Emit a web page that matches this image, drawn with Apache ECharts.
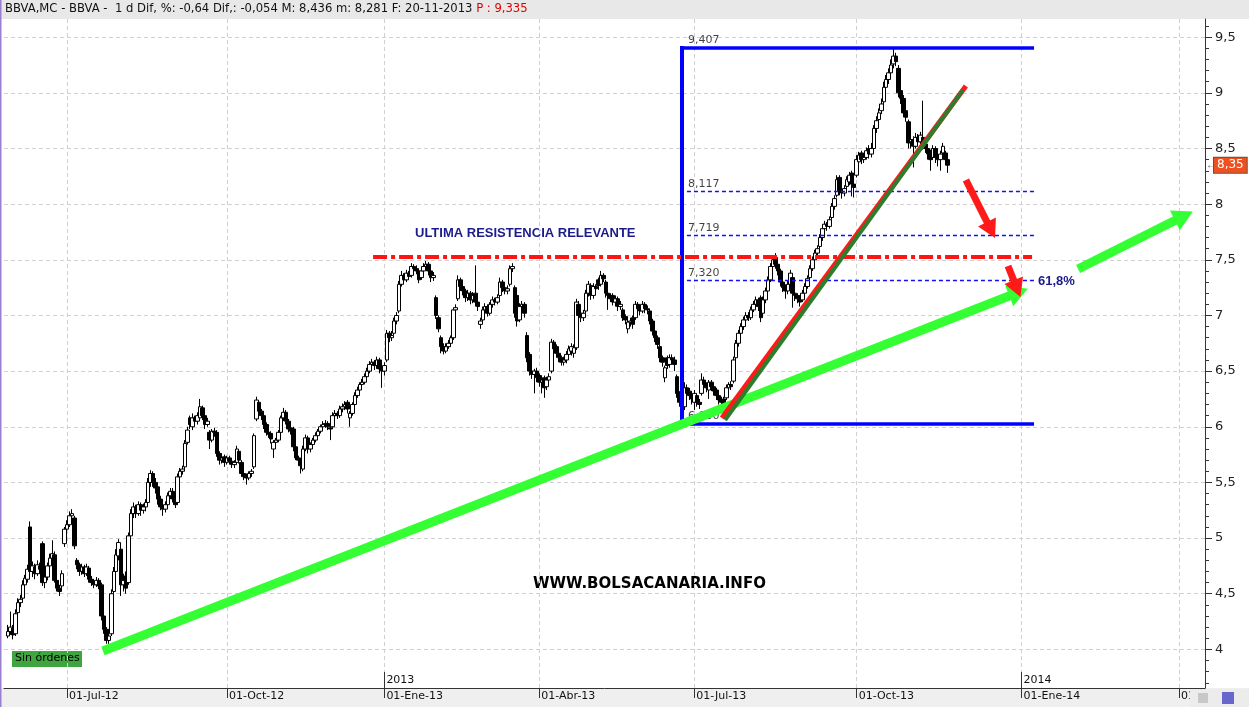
<!DOCTYPE html>
<html><head><meta charset="utf-8">
<script src="https://cdn.jsdelivr.net/npm/echarts@6/dist/echarts.min.js"></script>
<style>html,body{margin:0;padding:0;background:#fff}#c{width:1249px;height:707px}</style>
</head><body><div id="c"></div>
<script>
// ---- daily candles [open, close, low, high] ----
const p_jun12 = [
[4.12,4.16,4.10,4.22],[4.16,4.20,4.13,4.34],[4.19,4.13,4.09,4.22],[4.14,4.32,4.12,4.36],[4.33,4.42,4.30,4.46],[4.42,4.45,4.38,4.49],[4.46,4.58,4.44,4.62],[4.58,4.64,4.55,4.67],[4.63,4.72,4.60,4.76],[5.10,4.70,4.66,5.15],
[4.70,4.75,4.65,4.79],[4.74,4.68,4.63,4.77],[4.68,4.76,4.66,4.80],[4.75,4.72,4.68,4.78],[4.95,4.60,4.57,4.97],[4.60,4.65,4.55,4.70],[4.65,4.75,4.62,4.78],[4.75,4.82,4.72,4.86],[4.82,4.86,4.79,4.98],[4.85,4.62,4.60,4.88],
[4.62,4.55,4.52,4.64],[4.55,4.52,4.48,4.58],[4.57,4.68,4.55,4.71],[4.95,5.08,4.92,5.10]];
const p_q3_12 = [
[5.08,5.12,5.04,5.16],[5.12,5.20,5.10,5.24],[5.20,5.22,5.16,5.26],[5.18,4.93,4.90,5.20],[4.80,4.76,4.72,4.82],[4.76,4.70,4.66,4.78],[4.70,4.74,4.67,4.77],[4.74,4.68,4.65,4.76],[4.68,4.74,4.66,4.77],[4.73,4.63,4.60,4.75],
[4.63,4.60,4.57,4.66],[4.60,4.58,4.55,4.63],[4.58,4.62,4.56,4.65],[4.62,4.57,4.54,4.64],[4.58,4.30,4.26,4.60],[4.30,4.18,4.14,4.32],[4.18,4.08,4.05,4.20],[4.08,4.12,4.05,4.16],[4.14,4.50,4.12,4.54],[4.52,4.70,4.50,4.74],
[4.70,4.85,4.68,4.90],[4.84,4.96,4.80,4.99],[4.90,4.58,4.48,4.93],[4.58,4.62,4.52,4.68],[4.66,4.55,4.50,4.70],[4.60,5.02,4.58,5.05],[5.02,5.22,5.00,5.26],[5.22,5.28,5.18,5.32],[5.28,5.22,5.18,5.30],[5.22,5.30,5.20,5.33],
[5.30,5.25,5.20,5.32],[5.25,5.28,5.22,5.31],[5.28,5.32,5.24,5.35],[5.32,5.50,5.30,5.54],[5.50,5.58,5.46,5.61],[5.58,5.50,5.46,5.60],[5.50,5.45,5.40,5.54],[5.46,5.35,5.30,5.48],[5.35,5.28,5.25,5.38],[5.28,5.26,5.20,5.31],
[5.26,5.30,5.23,5.33],[5.30,5.38,5.28,5.41],[5.38,5.42,5.35,5.45],[5.42,5.35,5.32,5.45],[5.36,5.30,5.27,5.38],[5.32,5.55,5.30,5.58],[5.55,5.60,5.52,5.63],[5.60,5.62,5.57,5.65],[5.64,5.85,5.62,5.88],[5.86,5.97,5.84,6.00],
[6.08,6.02,5.98,6.10],[6.00,6.08,5.97,6.12],[6.08,6.05,6.01,6.10],[6.05,6.10,6.02,6.13],[6.08,6.18,6.06,6.25],[6.17,6.10,6.06,6.19],[6.10,6.02,5.98,6.12],[6.02,6.05,6.00,6.08],[5.95,5.88,5.80,5.97],[5.88,5.96,5.86,5.98],
[5.96,5.95,5.91,5.99],[5.95,5.76,5.73,5.97],[5.76,5.70,5.66,5.78],[5.70,5.72,5.67,5.75],[5.73,5.68,5.64,5.75]];
const p_q4_12 = [
[5.68,5.72,5.66,5.74],[5.72,5.69,5.66,5.74],[5.69,5.66,5.63,5.71],[5.66,5.68,5.63,5.70],[5.68,5.80,5.66,5.83],[5.78,5.70,5.67,5.80],[5.68,5.58,5.55,5.70],[5.58,5.55,5.52,5.60],[5.56,5.54,5.48,5.58],[5.54,5.58,5.52,5.60],
[5.58,5.60,5.55,5.62],[5.64,5.92,5.62,5.94],[6.07,6.24,6.05,6.27],[6.22,6.14,6.10,6.24],[6.14,6.10,6.06,6.16],[6.10,6.02,5.98,6.12],[6.02,5.95,5.92,6.04],[5.95,5.93,5.90,5.97],[5.94,5.89,5.85,5.96],[5.80,5.86,5.72,5.88],
[5.86,5.88,5.83,5.90],[5.88,5.95,5.86,5.97],[5.95,6.08,5.93,6.10],[6.08,6.13,6.05,6.17],[6.13,6.05,6.02,6.15],[6.05,5.98,5.95,6.07],[5.99,5.96,5.93,6.01],[5.98,5.82,5.78,6.00],[5.82,5.72,5.70,5.85],[5.72,5.70,5.66,5.74],
[5.70,5.65,5.58,5.72],[5.62,5.80,5.60,5.83],[5.80,5.90,5.78,5.93],[5.90,5.80,5.76,5.92],[5.80,5.84,5.77,5.86],[5.84,5.88,5.81,5.90],[5.88,5.92,5.86,5.95],[5.92,5.96,5.90,5.98],[5.96,6.00,5.94,6.02],[6.00,6.02,5.97,6.05],
[6.02,6.03,5.99,6.06],[6.03,6.00,5.97,6.05],[5.99,5.98,5.88,6.01],[6.00,6.10,5.98,6.13],[6.10,6.12,6.07,6.15],[6.12,6.10,6.07,6.14],[6.10,6.16,6.08,6.19],[6.16,6.18,6.13,6.21],[6.18,6.20,6.15,6.23],[6.22,6.16,6.12,6.24],
[6.08,6.12,6.00,6.14],[6.12,6.20,6.10,6.22],[6.20,6.28,6.18,6.31],[6.28,6.33,6.26,6.36],[6.33,6.38,6.30,6.40],[6.38,6.40,6.35,6.43],[6.40,6.45,6.38,6.48],[6.45,6.50,6.43,6.53],[6.50,6.56,6.48,6.59],[6.56,6.58,6.53,6.61],
[6.58,6.55,6.51,6.60],[6.55,6.60,6.52,6.63],[6.60,6.52,6.48,6.62],[6.52,6.50,6.35,6.55]];
const p_q1_13 = [
[6.50,6.55,6.46,6.58],[6.60,6.84,6.58,6.87],[6.84,6.80,6.76,6.86],[6.80,6.82,6.77,6.86],[6.84,6.95,6.82,6.98],[6.95,7.00,6.92,7.03],[7.04,7.28,7.02,7.31],[7.28,7.36,7.26,7.40],[7.36,7.32,7.28,7.38],[7.32,7.38,7.30,7.41],
[7.38,7.35,7.32,7.40],[7.36,7.44,7.34,7.47],[7.44,7.42,7.39,7.46],[7.42,7.40,7.37,7.45],[7.40,7.32,7.29,7.42],[7.34,7.40,7.32,7.43],[7.40,7.44,7.38,7.47],[7.44,7.46,7.41,7.49],[7.46,7.40,7.36,7.48],[7.40,7.34,7.30,7.42],
[7.34,7.36,7.31,7.39],[7.16,7.00,6.97,7.18],[6.98,6.88,6.85,7.00],[6.80,6.72,6.66,6.82],[6.72,6.68,6.65,6.75],[6.68,6.72,6.66,6.75],[6.72,6.75,6.70,6.78],[6.75,6.80,6.72,6.82],[6.80,7.05,6.78,7.07],[7.05,7.07,7.01,7.10],
[7.15,7.32,7.13,7.36],[7.32,7.26,7.22,7.34],[7.26,7.22,7.18,7.28],[7.22,7.16,7.12,7.24],[7.16,7.20,7.13,7.23],[7.20,7.14,7.10,7.22],[7.14,7.18,7.11,7.21],[7.20,7.12,7.08,7.45],[7.12,7.08,7.04,7.15],[6.92,6.95,6.88,6.98],
[6.96,7.05,6.94,7.08],[7.05,7.08,7.02,7.11],[7.08,7.02,6.99,7.10],[7.02,7.10,7.00,7.12],[7.10,7.14,7.07,7.17],[7.14,7.12,7.09,7.16],[7.12,7.16,7.10,7.19],[7.18,7.30,7.16,7.34],[7.30,7.25,7.21,7.32],[7.25,7.22,7.19,7.27],
[7.22,7.24,7.19,7.27],[7.28,7.42,7.26,7.45],[7.42,7.44,7.39,7.47],[7.25,7.02,6.98,7.27],[7.18,6.95,6.90,7.20],[6.96,7.08,6.94,7.11],[7.08,7.10,7.04,7.13],[7.10,7.02,6.98,7.12],[6.82,6.62,6.58,6.85],[6.65,6.50,6.46,6.67],
[6.50,6.47,6.43,6.53],[6.47,6.50,6.30,6.52],[6.50,6.44,6.40,6.53]];
const p_q2_13 = [
[6.46,6.40,6.36,6.48],[6.40,6.42,6.30,6.45],[6.44,6.35,6.26,6.46],[6.36,6.42,6.33,6.45],[6.42,6.45,6.39,6.48],[6.50,6.76,6.48,6.79],[6.76,6.70,6.66,6.78],[6.72,6.66,6.62,6.74],[6.66,6.62,6.58,6.68],[6.62,6.58,6.55,6.64],
[6.58,6.60,6.55,6.63],[6.60,6.65,6.57,6.68],[6.65,6.70,6.62,6.73],[6.68,6.72,6.64,6.75],[6.66,6.71,6.62,6.74],[6.71,7.12,6.69,7.15],[7.10,7.00,6.96,7.13],[7.02,6.98,6.94,7.05],[6.98,7.02,6.95,7.05],[7.04,7.20,7.02,7.23],
[7.20,7.28,7.17,7.31],[7.27,7.18,7.14,7.29],[7.18,7.26,7.15,7.29],[7.26,7.24,7.20,7.28],[7.32,7.27,7.23,7.34],[7.28,7.36,7.26,7.40],[7.36,7.33,7.30,7.38],[7.30,7.20,7.16,7.32],[7.20,7.18,7.05,7.22],[7.18,7.15,7.12,7.20],
[7.18,7.12,7.09,7.20],[7.12,7.15,7.08,7.18],[7.15,7.08,7.04,7.17],[7.08,7.10,7.05,7.13],[7.05,6.98,6.95,7.07],[6.99,6.96,6.92,7.01],[6.88,6.94,6.84,6.96],[6.94,6.95,6.90,6.98],[6.98,6.92,6.88,7.00],[6.98,7.10,6.96,7.13],
[7.10,7.06,7.02,7.12],[7.06,7.04,7.00,7.09],[7.04,7.10,7.02,7.13],[7.10,7.06,7.02,7.12],[7.06,7.05,7.01,7.09],[7.04,6.95,6.92,7.06],[6.95,6.86,6.82,6.97],[6.86,6.80,6.76,6.88],[6.80,6.74,6.70,6.82],[6.72,6.62,6.58,6.74],
[6.62,6.58,6.54,6.64],[6.44,6.53,6.40,6.55],[6.62,6.55,6.52,6.64],[6.56,6.62,6.53,6.65],[6.62,6.60,6.56,6.65],[6.60,6.56,6.50,6.63],[6.45,6.30,6.26,6.47],[6.30,6.22,6.18,6.32],[6.22,6.15,6.03,6.24],[6.18,6.35,6.15,6.40],
[6.35,6.30,6.26,6.38],[6.32,6.28,6.24,6.35],[6.28,6.25,6.20,6.30]];
const p_q3_13 = [
[6.22,6.30,6.15,6.33],[6.28,6.22,6.18,6.30],[6.22,6.20,6.16,6.25],[6.30,6.42,6.28,6.48],[6.42,6.38,6.34,6.45],[6.38,6.35,6.31,6.40],[6.33,6.40,6.25,6.42],[6.40,6.36,6.32,6.42],[6.36,6.32,6.28,6.38],[6.33,6.28,6.24,6.35],
[6.28,6.24,6.20,6.30],[6.24,6.22,6.18,6.27],[6.25,6.20,6.17,6.27],[6.26,6.35,6.24,6.38],[6.35,6.38,6.32,6.40],[6.38,6.36,6.33,6.41],[6.41,6.60,6.39,6.63],[6.62,6.75,6.60,6.78],[6.75,6.84,6.72,6.87],[6.84,6.90,6.81,6.93],
[6.90,6.96,6.87,6.99],[6.96,7.00,6.93,7.03],[7.00,6.98,6.95,7.03],[6.98,7.05,6.96,7.08],[7.05,7.10,7.03,7.13],[7.10,7.14,7.07,7.17],[7.14,7.08,7.04,7.16],[7.16,6.98,6.94,7.18],[7.02,7.14,7.00,7.17],[7.14,7.22,7.11,7.25],
[7.22,7.32,7.19,7.35],[7.32,7.44,7.30,7.47],[7.44,7.50,7.41,7.53],[7.52,7.46,7.42,7.56],[7.46,7.40,7.36,7.48],[7.40,7.30,7.26,7.42],[7.30,7.25,7.21,7.32],[7.26,7.22,7.15,7.28],[7.22,7.28,7.19,7.31],[7.28,7.38,7.26,7.41],
[7.34,7.20,7.07,7.36],[7.20,7.18,7.13,7.23],[7.18,7.15,7.11,7.20],[7.15,7.12,7.08,7.18],[7.14,7.20,7.12,7.23],[7.20,7.26,7.18,7.29],[7.26,7.33,7.24,7.36],[7.34,7.42,7.32,7.45],[7.42,7.50,7.40,7.53],[7.50,7.56,7.47,7.59],
[7.56,7.60,7.53,7.63],[7.62,7.70,7.60,7.73],[7.70,7.78,7.67,7.81],[7.78,7.82,7.75,7.85],[7.82,7.80,7.76,7.84],[7.80,7.86,7.78,7.89],[7.88,7.98,7.86,8.01],[7.98,8.05,7.95,8.08],[8.08,8.22,8.06,8.26],[8.24,8.12,8.08,8.26],
[8.12,8.10,8.05,8.15],[8.10,8.14,8.07,8.17],[8.16,8.22,8.13,8.25],[8.20,8.26,8.17,8.29],[8.28,8.18,8.07,8.30],[8.18,8.15,8.06,8.20]];
const p_q4_13 = [
[8.26,8.40,8.24,8.44],[8.38,8.44,8.36,8.47],[8.46,8.40,8.36,8.48],[8.40,8.42,8.37,8.46],[8.42,8.48,8.40,8.51],[8.50,8.45,8.41,8.53],[8.45,8.50,8.42,8.55],[8.50,8.68,8.48,8.71],[8.68,8.75,8.64,8.79],[8.76,8.82,8.73,8.86],
[8.84,8.90,8.81,8.95],[8.92,9.05,8.90,9.10],[9.05,9.12,9.02,9.16],[9.12,9.18,9.08,9.22],[9.18,9.25,9.15,9.30],[9.26,9.33,9.22,9.407],[9.33,9.28,9.24,9.36],[9.22,9.00,8.96,9.25],[9.02,8.95,8.90,9.05],[8.95,8.82,8.78,8.98],
[8.84,8.78,8.74,8.88],[8.74,8.55,8.50,8.76],[8.56,8.58,8.50,8.62],[8.58,8.52,8.33,8.61],[8.52,8.60,8.50,8.64],[8.60,8.56,8.52,8.63],[8.56,8.62,8.53,8.65],[8.60,8.54,8.49,8.93],[8.54,8.50,8.46,8.57],[8.50,8.45,8.40,8.53],
[8.46,8.40,8.30,8.49],[8.42,8.50,8.40,8.53],[8.50,8.42,8.37,8.52],[8.42,8.40,8.34,8.45],[8.40,8.45,8.30,8.48],[8.46,8.52,8.44,8.55],[8.46,8.40,8.36,8.48],[8.40,8.35,8.281,8.436]];

// ---- axis ticks (trading-day index) ----
const tickIdx = [24, 89, 153, 216, 279, 345, 412, 476];
const tickLabels = ['01-Jul-12','01-Oct-12','01-Ene-13','01-Abr-13','01-Jul-13','01-Oct-13','01-Ene-14','01-Abr-14'];
const yearIdx = [153, 412];
const yearLabels = ['2013','2014'];
const priceTicks = [4, 4.5, 5, 5.5, 6, 6.5, 7, 7.5, 8, 8.5, 9, 9.5];
const lastPrice = 8.35;

// ---- annotation values ----
const fibHigh = 9.407, fibLow = 6.030;
const fibLevels = [8.117, 7.719, 7.320];
const resistance = 7.525;

const candles = [].concat(p_jun12, p_q3_12, p_q4_12, p_q1_13, p_q2_13, p_q3_13, p_q4_13);
const data = candles.map((c, i) => [i, c[0], c[1], c[2], c[3]]);
const lastIdx = candles.length - 1;
const fmt = v => String(v).replace('.', ',');
const minorTicks = [];
for (let k = 37; k <= 96; k++) { if (k % 5) minorTicks.push(k / 10); }

const FONT = '"Liberation Sans", Arial, sans-serif';
const DV = '"DejaVu Sans", sans-serif';
const X_MIN = -1.626, X_MAX = 486.59;
const seg = (a, b, style) => { const s = [{coord: a}, {coord: b}]; if (style) s[0].lineStyle = style; return s; };
const helper = (z, markLine) => {
  const ml = Object.assign({silent: true, symbol: 'none', label: {show: false}, emphasis: {disabled: true}, animation: false}, markLine);
  ml.lineStyle = Object.assign({type: 'solid', width: 1, color: '#000'}, markLine.lineStyle || {});
  return {type: 'line', data: [], z: z, silent: true, markLine: ml};
};

const chart = echarts.init(document.getElementById('c'), null, {renderer: 'canvas'});
chart.setOption({
  animation: false,
  backgroundColor: '#ffffff',
  grid: {left: 4, right: 44, top: 19, bottom: 19, outerBoundsMode: 'none'},
  xAxis: [{
    type: 'value', min: X_MIN, max: X_MAX,
    axisLine: {show: true, onZero: false, lineStyle: {color: '#333', width: 1}},
    axisTick: {show: true, customValues: tickIdx, length: 10, lineStyle: {color: '#333'}},
    axisLabel: {customValues: tickIdx, formatter: v => tickLabels[tickIdx.indexOf(v)] || '', align: 'left', margin: 3, padding: [0,0,0,2], color: '#111', fontSize: 11, fontFamily: DV},
    splitLine: {show: true, lineStyle: {color: '#d0d0d0', type: [4, 3], width: 1}}
  }, {
    type: 'value', min: X_MIN, max: X_MAX, position: 'bottom',
    axisLine: {show: false, onZero: false},
    axisTick: {show: true, inside: true, customValues: yearIdx, length: 16, lineStyle: {color: '#333'}},
    axisLabel: {inside: true, customValues: yearIdx, formatter: v => yearLabels[yearIdx.indexOf(v)] || '', align: 'left', margin: 2, padding: [0,0,0,2], color: '#111', fontSize: 11, fontFamily: DV},
    splitLine: {show: false}
  }],
  yAxis: [{
    type: 'value', position: 'right', min: 3.653, max: 9.6635,
    axisLine: {show: true, onZero: false, lineStyle: {color: '#333'}},
    axisTick: {show: true, customValues: priceTicks, length: 7, lineStyle: {color: '#333'}},
    axisLabel: {customValues: priceTicks, formatter: v => fmt(v), margin: 10, color: '#222', fontSize: 13, fontFamily: DV},
    splitLine: {show: true, lineStyle: {color: '#d0d0d0', type: [4, 3], width: 1}}
  }, {
    type: 'value', position: 'right', min: 3.653, max: 9.6635,
    axisLine: {show: false, onZero: false},
    axisTick: {show: true, customValues: minorTicks, length: 4, lineStyle: {color: '#333'}},
    axisLabel: {show: false}, splitLine: {show: false}
  }],
  series: [
    {
      type: 'candlestick', name: 'BBVA', data: data, z: 2, silent: true, barWidth: 4,
      itemStyle: {color: '#ffffff', color0: '#000000', borderColor: '#000000', borderColor0: '#000000', borderWidth: 1}
    },
    helper(3, {data: [
      seg([274, fibLow - 0.015], [274, fibHigh + 0.015], {color: '#0000ff', width: 4}),
      seg([274, fibHigh], [417.1, fibHigh], {color: '#0000ff', width: 3.5}),
      seg([274, fibLow], [417.1, fibLow], {color: '#0000ff', width: 3.5})
    ]}),
    helper(3, {lineStyle: {color: '#1010ff', width: 1.4, type: [4, 3]}, data: fibLevels.map(v => seg([276, v], [417.1, v]))}),
    {
      type: 'scatter', z: 4, silent: true, symbolSize: 0,
      data: [fibHigh].concat(fibLevels, [fibLow]).map(v => [276.4, v]),
      label: {show: true, position: 'right', distance: 0, offset: [0, -7], formatter: p => fmt(p.value[1].toFixed(3)), color: '#111', fontSize: 11, fontFamily: DV}
    },
    helper(5, {data: [seg([148.4, resistance], [416.3, resistance], {color: '#ff1414', width: 4, type: [14, 4, 4, 4]})]}),
    helper(6, {symbol: ['none', 'triangle'], symbolSize: [22, 20], lineStyle: {color: '#33ff33', width: 9, cap: 'butt'}, data: [
      seg([38.6, 3.985], [410.8, 7.208]),
      seg([435.0, 7.417], [478.0, 7.894])
    ]}),
    helper(7, {data: [
      seg([290.2, 6.079], [389.4, 9.062], {color: '#ff1a1a', width: 5}),
      seg([291.5, 6.061], [388.2, 9.026], {color: '#2e7d2e', width: 4})
    ]}),
    helper(8, {symbol: ['none', 'triangle'], symbolSize: [20, 18], lineStyle: {color: '#ff1a1a', width: 7}, data: [
      seg([389.4, 8.217], [399.6, 7.768]),
      seg([406.5, 7.444], [410.2, 7.241])
    ]}),
    helper(9, {lineStyle: {color: 'rgba(0,0,0,0)', width: 1}, data: [seg([lastIdx, lastPrice], [X_MAX, lastPrice])],
      label: {show: true, position: 'end', distance: 9, formatter: () => fmt(lastPrice), color: '#ffffff', backgroundColor: '#f0501e', borderColor: '#555555', borderWidth: 1, padding: [2, 3, 1, 3], fontSize: 12, fontFamily: DV}})
  ],
  graphic: [
    {type: 'rect', z: -1, shape: {x: 0, y: 0, width: 1249, height: 19}, style: {fill: '#e8e8e8'}},
    {type: 'rect', z: -1, shape: {x: 0, y: 688, width: 1249, height: 19}, style: {fill: '#efefef'}},
    {type: 'line', shape: {x1: 0.5, y1: 0, x2: 0.5, y2: 707}, style: {stroke: '#9a7fd0', lineWidth: 2}},
    {type: 'text', x: 5, y: 3, style: {text: '{a|BBVA,MC - BBVA -  1 d Dif, %: -0,64 Dif,: -0,054 M: 8,436 m: 8,281 F: 20-11-2013 }{b|P : 9,335}', rich: {a: {fill: '#111', font: '11.6px ' + DV}, b: {fill: '#e00000', font: '11.6px ' + DV}}}},
    {type: 'text', x: 415, y: 227, style: {text: 'ULTIMA RESISTENCIA RELEVANTE', fill: '#1b1b8a', font: 'bold 13px ' + FONT}},
    {type: 'text', x: 1038, y: 275, style: {text: '61,8%', fill: '#1b1b8a', font: 'bold 13px ' + FONT}},
    {type: 'text', x: 533, y: 577, style: {text: 'WWW.BOLSACANARIA.INFO', fill: '#000', font: 'bold 15px ' + DV}},
    {type: 'rect', shape: {x: 12, y: 651, width: 70, height: 16}, style: {fill: '#3fa53f'}},
    {type: 'text', x: 15, y: 653, style: {text: 'Sin órdenes', fill: '#000', font: '11px ' + DV}},
    {type: 'text', x: 1206, y: 160, style: {text: '←', fill: '#555', font: '10px ' + FONT}},
    {type: 'rect', z: 100, shape: {x: 1190, y: 689, width: 59, height: 18}, style: {fill: '#ececec'}},
    {type: 'rect', z: 101, shape: {x: 1222, y: 692, width: 12, height: 12}, style: {fill: '#6666cc'}},
    {type: 'rect', z: 101, shape: {x: 1198, y: 693, width: 10, height: 10}, style: {fill: '#c8c8c8'}}
  ]
});
</script>
</body></html>
